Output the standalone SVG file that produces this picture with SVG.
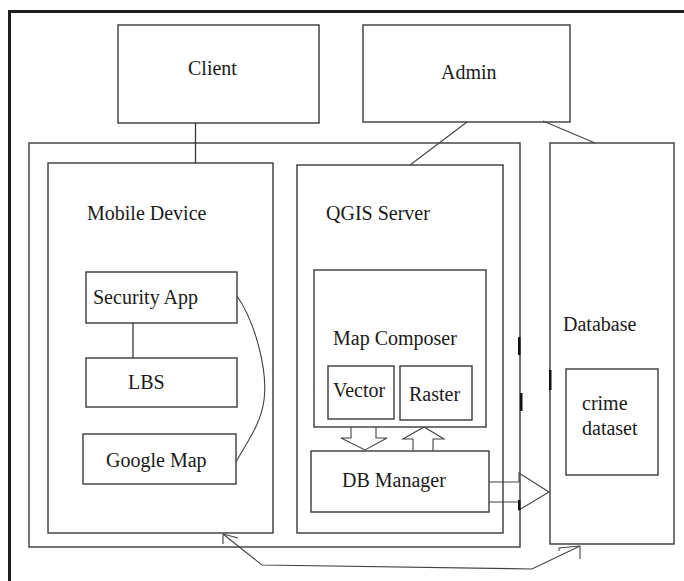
<svg xmlns="http://www.w3.org/2000/svg" width="684" height="581" viewBox="0 0 684 581">
  <style>
    .box { fill: #ffffff; stroke: #3a3a3a; stroke-width: 1.4; }
    .ln { fill: none; stroke: #3a3a3a; stroke-width: 1.3; }
    .thin { fill: none; stroke: #444444; stroke-width: 1.1; }
    .mark { fill: #111111; }
    text { font-family: "Liberation Serif", "Times New Roman", serif; font-size: 20px; fill: #1a1a1a; }
  </style>

  <rect width="684" height="581" fill="#ffffff"/>

  <!-- page frame (top and left edges) -->
  <g id="frame">
    <path d="M9.5,581 V11.5 H684" fill="none" stroke="#1e1e1e" stroke-width="3"/>
  </g>

  <g id="client">
    <rect class="box" x="118" y="25" width="201" height="98"/>
    <text x="188" y="75">Client</text>
  </g>

  <g id="admin">
    <rect class="box" x="363" y="25" width="207" height="97"/>
    <text x="441" y="79">Admin</text>
  </g>

  <g id="system">
    <rect class="box" x="29" y="143" width="491" height="404"/>
  </g>

  <g id="mobile-device">
    <rect class="box" x="48" y="163" width="225" height="370"/>
    <text x="87" y="220">Mobile Device</text>
  </g>

  <g id="security-app">
    <rect class="box" x="86" y="272" width="151" height="51"/>
    <text x="93" y="304">Security App</text>
  </g>

  <g id="lbs">
    <rect class="box" x="86" y="358" width="151" height="49"/>
    <text x="128" y="389">LBS</text>
  </g>

  <g id="google-map">
    <rect class="box" x="83" y="434" width="153" height="50"/>
    <text x="106" y="467">Google Map</text>
  </g>

  <g id="qgis-server">
    <rect class="box" x="297" y="165" width="206" height="368"/>
    <text x="326" y="220">QGIS Server</text>
  </g>

  <g id="map-composer">
    <rect class="box" x="314" y="270" width="172" height="157"/>
    <text x="333" y="345">Map Composer</text>
  </g>

  <g id="vector">
    <rect class="box" x="328" y="366" width="66" height="53"/>
    <text x="333" y="397">Vector</text>
  </g>

  <g id="raster">
    <rect class="box" x="400" y="366" width="72" height="54"/>
    <text x="409" y="401">Raster</text>
  </g>

  <g id="db-manager">
    <rect class="box" x="311" y="451" width="178" height="61"/>
    <text x="342" y="487">DB Manager</text>
  </g>

  <g id="database">
    <rect class="box" x="550" y="143" width="124" height="401"/>
    <text x="563" y="331">Database</text>
  </g>

  <g id="crime-dataset">
    <rect class="box" x="566" y="369" width="92" height="106"/>
    <text x="582" y="410">crime</text>
    <text x="582" y="435">dataset</text>
  </g>

  <g id="connectors">
    <!-- Client to mobile device -->
    <path class="ln" d="M195.5,123 V163"/>
    <!-- Admin to QGIS server and database -->
    <path class="thin" d="M467,122 L410,165"/>
    <path class="thin" d="M543,121 L595,143"/>
    <!-- Security App to LBS -->
    <path class="ln" d="M133,323 V358"/>
    <!-- Security App to Google Map -->
    <path class="thin" d="M237,296 C255,322 268,370 264,400 C261,425 245,445 236,462"/>
    <!-- block arrows between Map Composer and DB Manager -->
    <path class="thin" d="M351,427 V438 H341 L365,450 L387,438 H376 V427"/>
    <path class="thin" d="M413,451 V439 H403 L424,427 L444,439 H433 V451"/>
    <!-- DB Manager to Database -->
    <path class="thin" d="M489,482 H519 V473 L549,492 L519,510 V502 H489"/>
    <!-- return link between database and mobile device -->
    <path class="thin" d="M223,534 L262,565 L532,569 L580,546"/>
    <path class="thin" d="M223,534 V544 M223,534 L238,538"/>
    <path class="thin" d="M580,546 V559 M580,546 L559,548 V551"/>
    <!-- heavy tick marks on edges -->
    <rect class="mark" x="518" y="337" width="2.5" height="18"/>
    <rect class="mark" x="520" y="393" width="2.5" height="18"/>
    <rect class="mark" x="549" y="370" width="2.5" height="20"/>
    <rect class="mark" x="518" y="500" width="2.5" height="10"/>
  </g>
</svg>
